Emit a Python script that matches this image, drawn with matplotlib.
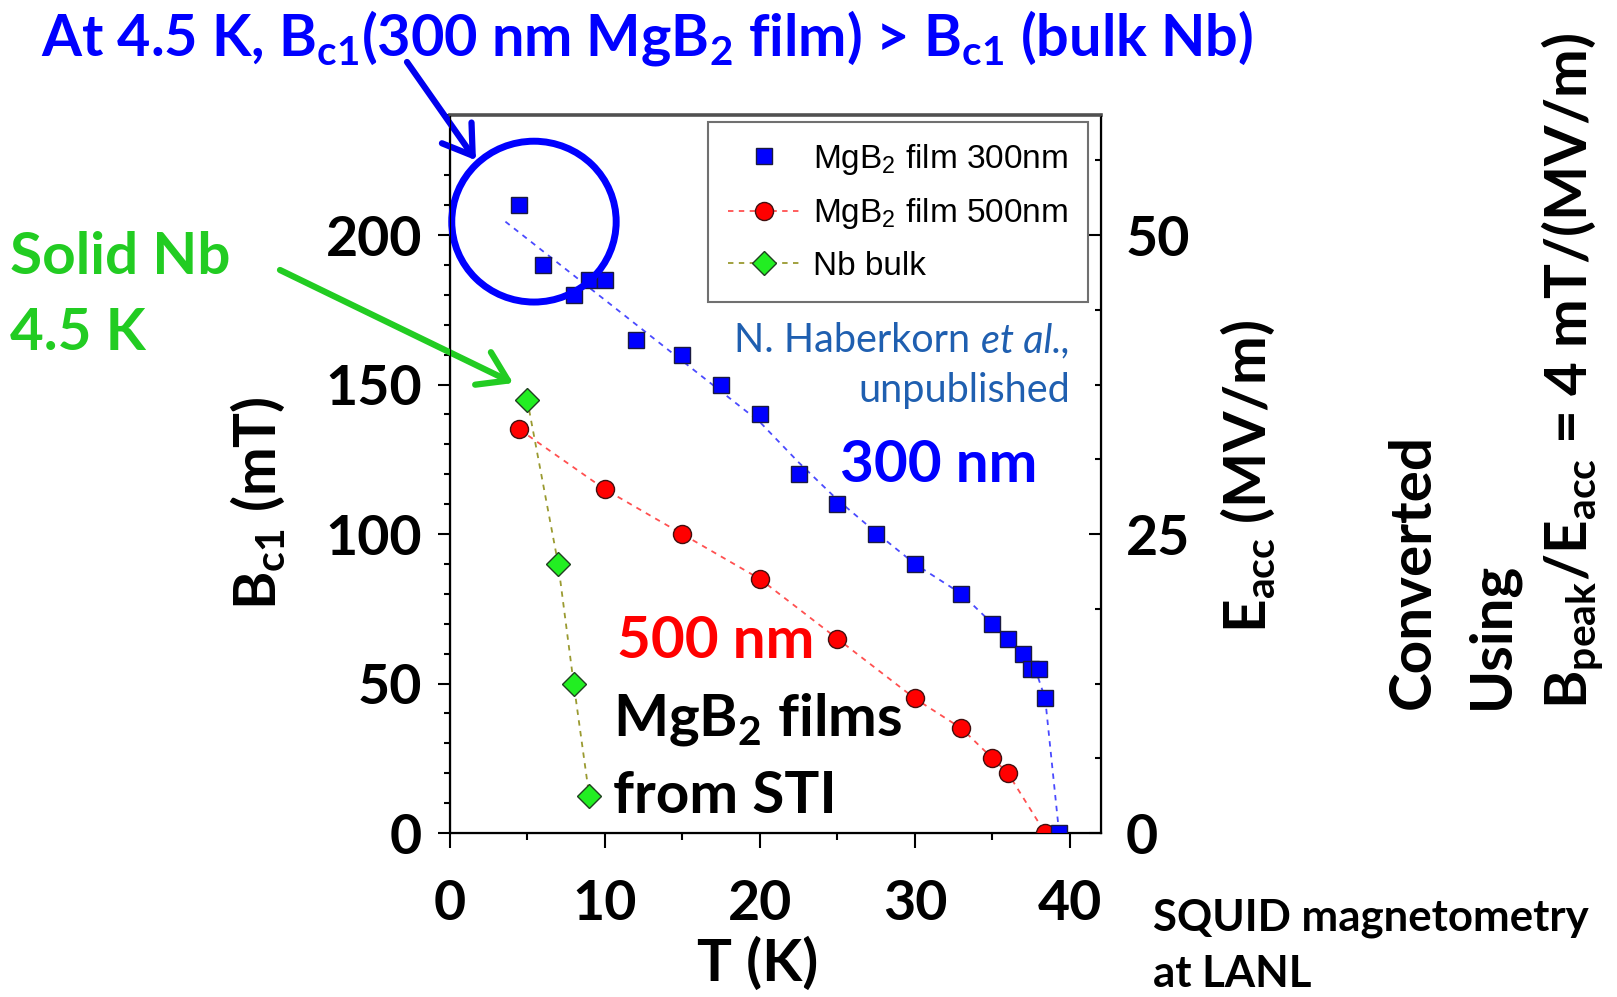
import numpy as np
import matplotlib
matplotlib.use('Agg')
import matplotlib.pyplot as plt
from matplotlib.patches import Ellipse
from matplotlib.ticker import MultipleLocator

plt.rcParams['mathtext.default'] = 'regular'

# Bc1 vs T, MgB2 film 300 nm (N. Haberkorn et al.)
t_300 = [4.5, 6, 8, 9, 10, 12, 15, 17.5, 20, 22.5, 25, 27.5, 30, 33, 35,
         36, 37, 37.5, 38, 38.4, 39.3]
b_300 = [210, 190, 180, 185, 185, 165, 160, 150, 140, 120, 110, 100, 90,
         80, 70, 65, 60, 55, 55, 45, 0]
# guide line drawn through the 300 nm data
t_300_fit = [3.6, 20, 22.5, 25, 27.5, 30, 33, 35, 36, 37, 37.75, 38.4, 39.3]
b_300_fit = [204.5, 137.5, 124, 111.5, 100.5, 90, 80, 70, 65, 60, 55, 45, 0]

# MgB2 film 500 nm
t_500 = [4.5, 10, 15, 20, 25, 30, 33, 35, 36, 38.4]
b_500 = [135, 115, 100, 85, 65, 45, 35, 25, 20, 0]

# Nb bulk
t_nb = [5, 7, 8, 9]
b_nb = [145, 90, 50, 12.5]

BPEAK_PER_EACC = 4.0  # mT/(MV/m)

W, H = 1617, 997


def fx(px):
    """."""
    return px / W


def fy(py):
    """."""
    return 1 - py / H


BOLD = dict(family='Lato', weight='bold')
BIG = 42

fig = plt.figure(figsize=(W / 100, H / 100), dpi=100)
ax = fig.add_axes([fx(449.6), fy(833), fx(1101) - fx(449.6),
                   fy(115.5) - fy(833)])

ax.plot(t_300_fit, b_300_fit, color='#4a4aff', lw=1.3, ls=(0, (3, 3)),
        zorder=2)
ax.plot(t_300, b_300, ls='none', marker='s', ms=11.5, mfc='#0000ff',
        mec='#1a1a40', mew=1.0, zorder=4, label='MgB$_2$ film 300nm')
ax.plot(t_500, b_500, color='#ff5050', lw=1.3, ls=(0, (3, 3)),
        marker='o', ms=13, mfc='#ff0000', mec='#401010', mew=1.0,
        zorder=3, label='MgB$_2$ film 500nm')
ax.plot(t_nb, b_nb, color='#9a9a30', lw=1.3, ls=(0, (3, 3)),
        marker='D', ms=12.5, mfc='#22ee22', mec='#204020', mew=1.0,
        zorder=3, label='Nb bulk')

ax.set_xlim(0, 42)
ax.set_ylim(0, 240)
ax.xaxis.set_major_locator(MultipleLocator(10))
ax.xaxis.set_minor_locator(MultipleLocator(5))
ax.yaxis.set_major_locator(MultipleLocator(50))
ax.yaxis.set_minor_locator(MultipleLocator(10))
ax.tick_params(axis='x', which='major', direction='out', length=11,
               width=1.5, pad=22)
ax.tick_params(axis='x', which='minor', direction='out', length=5,
               width=1.5)
ax.tick_params(axis='y', which='major', direction='out', length=9,
               width=1.5, pad=11)
ax.tick_params(axis='y', which='minor', direction='out', length=4.5,
               width=1.5)
for lab in ax.get_xticklabels() + ax.get_yticklabels():
    lab.set_fontproperties(dict(BOLD, size=40))

for side in ('left', 'bottom', 'right'):
    ax.spines[side].set_linewidth(1.6)
ax.spines['top'].set_linewidth(2.6)
ax.spines['top'].set_color('#505050')

# right axis: accelerating gradient
ax2 = ax.twinx()
ax2.set_ylim(0, 240 / BPEAK_PER_EACC)
ax2.yaxis.set_major_locator(MultipleLocator(25))
ax2.yaxis.set_minor_locator(MultipleLocator(6.25))
ax2.tick_params(axis='y', which='major', direction='in', length=9,
                width=1.5, pad=18)
ax2.tick_params(axis='y', which='minor', direction='in', length=4,
                width=1.5)
for lab in ax2.get_yticklabels():
    lab.set_fontproperties(dict(BOLD, size=40))
ax2.spines['top'].set_visible(False)

leg = ax.legend(loc='upper right', bbox_to_anchor=(0.980, 0.991),
                prop=dict(family='Liberation Sans', size=24), numpoints=1,
                handlelength=2.2, handletextpad=0.35, labelspacing=0.58,
                borderpad=0.6, borderaxespad=0, fancybox=False,
                framealpha=1)
leg.get_frame().set_edgecolor('#707070')
leg.get_frame().set_linewidth(1.5)
leg.set_zorder(5)

# circle around the 4.5 K point
ax.add_patch(Ellipse((5.44, 204.5), 10.6, 53.8, fill=False, ec='#0000ff',
                     lw=5, clip_on=False, zorder=6))

ax.annotate('', xy=(1.7, 225), xycoords='data',
            xytext=(fx(407), fy(62)), textcoords='figure fraction',
            arrowprops=dict(arrowstyle='->,head_length=1.0,head_width=0.65',
                            color='#0000ee', lw=4.5, mutation_scale=20,
                            shrinkA=0, shrinkB=0),
            annotation_clip=False)
ax.annotate('', xy=(4.1, 150.5), xycoords='data',
            xytext=(fx(280), fy(270)), textcoords='figure fraction',
            arrowprops=dict(arrowstyle='->,head_length=1.0,head_width=0.65',
                            color='#22cc22', lw=4.5, mutation_scale=20,
                            shrinkA=0, shrinkB=0),
            annotation_clip=False)

fig.text(fx(41), fy(38),
         'At 4.5 K, B$_{c1}$(300 nm MgB$_2$ film) > B$_{c1}$ (bulk Nb)',
         color='#0000ff', size=41.5, ha='left', va='center', **BOLD)
fig.text(fx(10), fy(258), 'Solid Nb', color='#22cc22', size=BIG,
         ha='left', va='center', **BOLD)
fig.text(fx(10), fy(334), '4.5 K', color='#22cc22', size=BIG,
         ha='left', va='center', **BOLD)

# citation: italic "et al.," with the name placed just left of it
ref_col = '#1f5fb0'
etal = fig.text(fx(1070), fy(352), 'et al.,', color=ref_col, size=28.5,
                ha='right', va='baseline', family='Lato', style='italic')
ax.annotate('N. Haberkorn ', xy=(0, fy(352)),
            xycoords=(etal, 'figure fraction'), color=ref_col, size=28.5,
            ha='right', va='baseline', family='Lato', annotation_clip=False)
fig.text(fx(1070), fy(390), 'unpublished', color=ref_col, size=28.5,
         ha='right', va='center', family='Lato')

fig.text(fx(840), fy(466), '300 nm', color='#0000ff', size=BIG,
         ha='left', va='center', **BOLD)
fig.text(fx(617), fy(641), '500 nm', color='#ff0000', size=BIG,
         ha='left', va='center', **BOLD)
fig.text(fx(613), fy(719), 'MgB$_2$ films', color='black', size=BIG,
         ha='left', va='center', **BOLD)
fig.text(fx(613), fy(796), 'from STI', color='black', size=BIG,
         ha='left', va='center', **BOLD)

fig.text(fx(758), fy(964), 'T (K)', size=BIG, ha='center', va='center',
         **BOLD)
fig.text(fx(258), fy(503), 'B$_{c1}$ (mT)', size=BIG, ha='center',
         va='center', rotation=90, **BOLD)
fig.text(fx(1248), fy(476), 'E$_{acc}$ (MV/m)', size=BIG, ha='center',
         va='center', rotation=90, **BOLD)

fig.text(fx(1413), fy(709), 'Converted', size=BIG, ha='center',
         va='bottom', rotation=90, **BOLD)
fig.text(fx(1492), fy(709), 'Using', size=BIG, ha='center', va='bottom',
         rotation=90, **BOLD)
fig.text(fx(1572), fy(709), 'B$_{peak}$/E$_{acc}$ = 4 mT/(MV/m)', size=BIG,
         ha='center', va='bottom', rotation=90, **BOLD)

fig.text(fx(1153), fy(918), 'SQUID magnetometry', size=31.5, ha='left',
         va='center', **BOLD)
fig.text(fx(1153), fy(974), 'at LANL', size=31.5, ha='left', va='center',
         **BOLD)

fig.savefig('out.png', dpi=100)
